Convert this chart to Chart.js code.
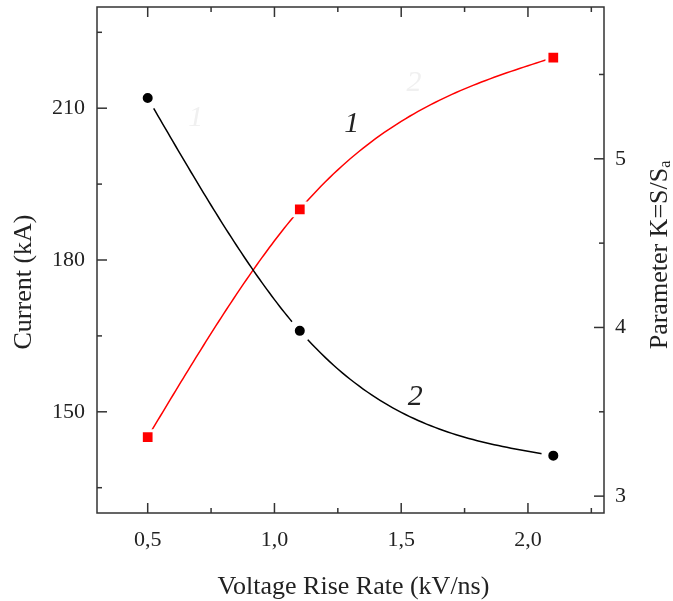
<!DOCTYPE html>
<html>
<head>
<meta charset="utf-8">
<script src="https://cdn.jsdelivr.net/npm/chart.js"></script>
<style>
  body { margin: 0; background: #fff; }
  #wrap { width: 673px; height: 601px; }
</style>
</head>
<body>
<div id="wrap"><canvas id="myChart" width="673" height="601"></canvas></div>
<script>
// dati
const rate = [0.5, 1.1, 2.1];            // kV/ns
const current = [145, 190, 220];         // kA (curva 1, rossa)
const paramK = [5.36, 3.98, 3.24];       // K=S/Sa (curva 2, nera)

const xTicks = [0.5, 1.0, 1.5, 2.0];
const xMinor = [0.75, 1.25, 1.75, 2.25];
const yTicks = [150, 180, 210];
const yMinor = [135, 165, 195, 225];
const kTicks = [3, 4, 5];
const kMinor = [3.5, 4.5, 5.5];

const serif = "'Liberation Serif', 'DejaVu Serif', serif";
const axisColor = "#333";

// etichette delle curve (posizioni in unità dati)
const curveLabels = [
  { text: "1", x: 1.305, y: 206.8, color: "#222" },
  { text: "2", x: 1.555, y: 153.0, color: "#222" },
  { text: "1", x: 0.69, y: 208, color: "#f0f0f0" },
  { text: "2", x: 1.55, y: 215, color: "#f0f0f0" }
];

// spline cubica naturale: derivate seconde nei nodi
const splineM = function (xs, ys) {
  const n = xs.length;
  const M = new Array(n).fill(0);
  if (n < 3) return M;
  const a = [], b = [], c = [], d = [];
  for (let i = 1; i < n - 1; i++) {
    const h0 = xs[i] - xs[i - 1], h1 = xs[i + 1] - xs[i];
    a.push(h0);
    b.push(2 * (h0 + h1));
    c.push(h1);
    d.push(6 * ((ys[i + 1] - ys[i]) / h1 - (ys[i] - ys[i - 1]) / h0));
  }
  // thomas
  for (let i = 1; i < b.length; i++) {
    const w = a[i] / b[i - 1];
    b[i] -= w * c[i - 1];
    d[i] -= w * d[i - 1];
  }
  const sol = new Array(b.length);
  for (let i = b.length - 1; i >= 0; i--) {
    sol[i] = (d[i] - (i < b.length - 1 ? c[i] * sol[i + 1] : 0)) / b[i];
  }
  for (let i = 1; i < n - 1; i++) M[i] = sol[i - 1];
  return M;
};

const splinePlugin = {
  id: "spline",
  beforeDatasetsDraw(chart) {
    const ctx = chart.ctx;
    const sx = chart.scales.x;
    ctx.save();
    chart.data.datasets.forEach(ds => {
      const sy = chart.scales[ds.yAxisID];
      const xs = ds.data.map(p => p.x), ys = ds.data.map(p => p.y);
      const M = splineM(xs, ys);
      ctx.beginPath();
      ctx.strokeStyle = ds.borderColor;
      ctx.lineWidth = 1.5;
      ctx.lineJoin = "round";
      for (let i = 0; i < xs.length - 1; i++) {
        const h = xs[i + 1] - xs[i];
        const steps = 60;
        for (let s = 0; s <= steps; s++) {
          const x = xs[i] + h * s / steps;
          const A = xs[i + 1] - x, B = x - xs[i];
          const y = M[i] * A * A * A / (6 * h) + M[i + 1] * B * B * B / (6 * h) +
            (ys[i] / h - M[i] * h / 6) * A + (ys[i + 1] / h - M[i + 1] * h / 6) * B;
          const px = sx.getPixelForValue(x), py = sy.getPixelForValue(y);
          if (i === 0 && s === 0) ctx.moveTo(px, py); else ctx.lineTo(px, py);
        }
      }
      ctx.stroke();
    });
    ctx.restore();
  }
};

// cornice, tacche interne e titoli
const framePlugin = {
  id: "frame",
  afterDraw(chart) {
    const ctx = chart.ctx;
    const a = chart.chartArea;
    const sx = chart.scales.x, sy = chart.scales.y, sk = chart.scales.y1;
    ctx.save();
    ctx.strokeStyle = axisColor;
    ctx.lineWidth = 1.5;
    ctx.strokeRect(a.left, a.top, a.right - a.left, a.bottom - a.top);

    const tick = function (x1, y1, x2, y2) {
      ctx.beginPath();
      ctx.moveTo(x1, y1);
      ctx.lineTo(x2, y2);
      ctx.stroke();
    };
    xTicks.forEach(v => {
      const px = sx.getPixelForValue(v);
      tick(px, a.bottom, px, a.bottom - 10);
      tick(px, a.top, px, a.top + 10);
    });
    xMinor.forEach(v => {
      const px = sx.getPixelForValue(v);
      tick(px, a.bottom, px, a.bottom - 5);
      tick(px, a.top, px, a.top + 5);
    });
    yTicks.forEach(v => {
      const py = sy.getPixelForValue(v);
      tick(a.left, py, a.left + 10, py);
    });
    yMinor.forEach(v => {
      const py = sy.getPixelForValue(v);
      tick(a.left, py, a.left + 5, py);
    });
    kTicks.forEach(v => {
      const py = sk.getPixelForValue(v);
      tick(a.right, py, a.right - 10, py);
    });
    kMinor.forEach(v => {
      const py = sk.getPixelForValue(v);
      tick(a.right, py, a.right - 5, py);
    });

    // titoli degli assi
    ctx.fillStyle = "#222";
    ctx.font = "26px " + serif;
    ctx.textAlign = "center";
    ctx.textBaseline = "middle";
    ctx.fillText("Voltage Rise Rate (kV/ns)", (a.left + a.right) / 2 + 3, 587);

    ctx.save();
    ctx.translate(24, 282);
    ctx.rotate(-Math.PI / 2);
    ctx.fillText("Current (kA)", 0, 0);
    ctx.restore();

    // titolo destro con pedice
    ctx.save();
    ctx.translate(660, 255);
    ctx.rotate(-Math.PI / 2);
    const main = "Parameter K=S/S";
    ctx.font = "26px " + serif;
    const w1 = ctx.measureText(main).width;
    ctx.font = "16px " + serif;
    const w2 = ctx.measureText("a").width;
    const start = -(w1 + w2) / 2;
    ctx.textAlign = "left";
    ctx.font = "26px " + serif;
    ctx.fillText(main, start, 0);
    ctx.font = "16px " + serif;
    ctx.fillText("a", start + w1, 6);
    ctx.restore();

    // numeri delle curve
    ctx.font = "italic 30px " + serif;
    ctx.textAlign = "center";
    curveLabels.forEach(l => {
      ctx.fillStyle = l.color;
      ctx.fillText(l.text, sx.getPixelForValue(l.x), sy.getPixelForValue(l.y));
    });
    ctx.restore();
  }
};

const noPad = function (s) {
  s.paddingTop = 0;
  s.paddingBottom = 0;
  s.paddingLeft = 0;
  s.paddingRight = 0;
};

const ctx = document.getElementById("myChart");

new Chart(ctx, {
  type: "line",
  data: {
    datasets: [
      {
        label: "Current",
        data: rate.map((x, i) => ({ x: x, y: current[i] })),
        yAxisID: "y",
        borderColor: "#ff0000",
        showLine: false,
        pointStyle: "rect",
        pointRadius: 9,
        pointBackgroundColor: "#ff0000",
        pointBorderColor: "#ffffff",
        pointBorderWidth: 3
      },
      {
        label: "K",
        data: rate.map((x, i) => ({ x: x, y: paramK[i] })),
        yAxisID: "y1",
        borderColor: "#000000",
        showLine: false,
        pointStyle: "circle",
        pointRadius: 8.5,
        pointBackgroundColor: "#000000",
        pointBorderColor: "#ffffff",
        pointBorderWidth: 7
      }
    ]
  },
  options: {
    responsive: false,
    animation: false,
    devicePixelRatio: 1,
    layout: { autoPadding: false, padding: { top: 7, right: 0, bottom: 0, left: 0 } },
    plugins: {
      legend: { display: false },
      tooltip: { enabled: false }
    },
    scales: {
      x: {
        type: "linear",
        min: 0.3,
        max: 2.3,
        grid: { display: false, drawTicks: false },
        border: { display: false },
        afterBuildTicks: s => { s.ticks = xTicks.map(v => ({ value: v })); },
        afterFit: s => { s.height = 88; noPad(s); },
        ticks: {
          padding: 14,
          color: "#222",
          font: { family: serif, size: 22 },
          callback: v => v.toFixed(1).replace(".", ",")
        }
      },
      y: {
        position: "left",
        min: 130,
        max: 230,
        grid: { display: false, drawTicks: false },
        border: { display: false },
        afterBuildTicks: s => { s.ticks = yTicks.map(v => ({ value: v })); },
        afterFit: s => { s.width = 97; noPad(s); },
        ticks: {
          padding: 12,
          color: "#222",
          font: { family: serif, size: 22 },
          callback: v => String(v)
        }
      },
      y1: {
        position: "right",
        min: 2.9,
        max: 5.9,
        grid: { display: false, drawTicks: false },
        border: { display: false },
        afterBuildTicks: s => { s.ticks = kTicks.map(v => ({ value: v })); },
        afterFit: s => { s.width = 69; noPad(s); },
        ticks: {
          padding: 11,
          color: "#222",
          font: { family: serif, size: 22 },
          callback: v => String(v)
        }
      }
    }
  },
  plugins: [splinePlugin, framePlugin]
});
</script>
</body>
</html>
